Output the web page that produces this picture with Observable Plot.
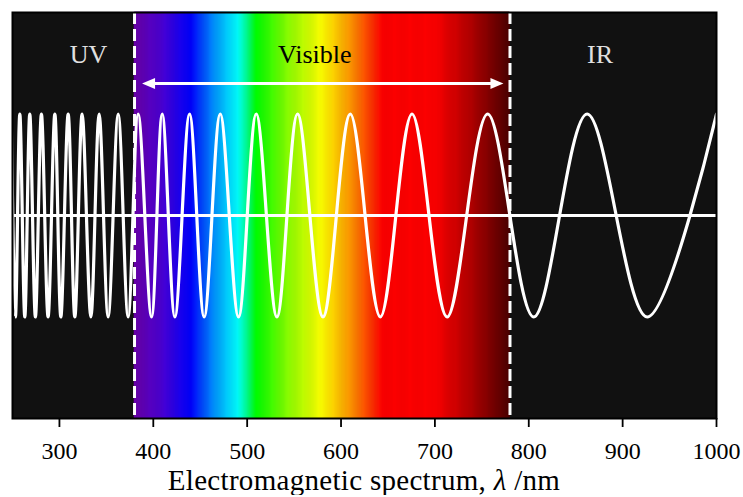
<!DOCTYPE html>
<html>
<head>
<meta charset="utf-8">
<script src="https://cdn.jsdelivr.net/npm/d3@7"></script>
<script src="https://cdn.jsdelivr.net/npm/@observablehq/plot@0.6"></script>
<style>
  body { margin: 0; background: #fff; }
  #chart { width: 743px; }
  #chart svg, #chart svg text { font-family: "Liberation Serif", "Times New Roman", serif !important; }
  .xlabel {
    font-family: "Liberation Serif", "Times New Roman", serif;
    font-size: 29px;
    line-height: 1;
    margin-top: -2px;
    padding-left: 12px;
    width: 704px;
    text-align: center;
    color: #000;
    white-space: nowrap;
    letter-spacing: 0.3px;
  }
</style>
</head>
<body>
<div id="chart"></div>
<script>
// Wavelengths (nm) of the wave's crests and troughs
const peakNm = [248.6, 257.8, 268.4, 280.8, 295.1, 309.3, 324.2, 342.3, 362.6, 383.9,
                409.5, 438.6, 471.3, 509.7, 553.7, 609.9, 675.6, 756.2, 862.2, 1000];
const troughNm = [253.1, 263.1, 274.4, 287.9, 301.5, 316.4, 333.5, 351.9, 373.2, 398.1,
                  423.0, 454.2, 490.8, 531.7, 580.8, 641.9, 713.0, 805.3, 926.2];

// Visible band limits (nm)
const boundaryNm = [380, 780];

// Colour stops of the visible spectrum
const spectrumStopNm = [380, 410, 440, 465, 490, 500, 510, 545, 580, 612, 645, 700, 740, 780];
const spectrumStopColor = ["#6a00a8", "#4a00d6", "#0000ff", "#0092ff", "#00ffff", "#00ff92",
                           "#00ff00", "#90ff00", "#ffff00", "#ff9000", "#ff0000", "#ff0000",
                           "#b00000", "#4c0000"];

// Axis
const xDomain = [250, 1000];
const xTicks = [300, 400, 500, 600, 700, 800, 900, 1000];
const yDomain = [-2, 2];

// Double arrow over the visible band
const arrowNm = [388, 773];
const arrowLevel = 1.3;

// Region labels
const lightLabels = ["UV", "IR"];
const lightLabelNm = [331, 876];
const darkLabels = ["Visible"];
const darkLabelNm = [572];
const labelLevel = 1.58;

const serifStack = "Liberation Serif, Times New Roman, serif";

// Build tables
const wave = [
  ...peakNm.map(x => ({x, y: 1})),
  ...troughNm.map(x => ({x, y: -1}))
].sort((a, b) => a.x - b.x);

const cells = d3.range(boundaryNm[0], boundaryNm[1], 1);

const arrowTips = [
  {x: arrowNm[0], y: arrowLevel, rot: 180},
  {x: arrowNm[1], y: arrowLevel, rot: 0}
];

const arrowHead = {
  draw(ctx) {
    ctx.moveTo(0, 0);
    ctx.lineTo(-13, -5.5);
    ctx.lineTo(-13, 5.5);
    ctx.closePath();
  }
};

const chart = Plot.plot({
  width: 743,
  height: 468,
  marginTop: 12,
  marginBottom: 50,
  marginLeft: 12,
  marginRight: 27,
  style: {fontFamily: serifStack, fontSize: "24px", color: "#000", background: "#fff"},
  x: {domain: xDomain},
  y: {domain: yDomain, axis: null},
  color: {type: "linear", domain: spectrumStopNm, range: spectrumStopColor, interpolate: "rgb"},
  marks: [
    Plot.frame({fill: "#111111"}),
    Plot.rect(cells, {x1: d => d, x2: d => d + 1, fill: d => d, stroke: d => d, strokeWidth: 0.6}),
    Plot.ruleY([0], {stroke: "white", strokeWidth: 3}),
    Plot.line(wave, {x: "x", y: "y", curve: "cardinal", stroke: "white", strokeWidth: 3.2, clip: true}),
    Plot.ruleX(boundaryNm, {stroke: "white", strokeWidth: 3, strokeDasharray: "12,5"}),
    Plot.arrow([{x1: arrowNm[0], x2: arrowNm[1], y: arrowLevel}], {
      x1: "x1", x2: "x2", y1: "y", y2: "y", bend: 0, headLength: 0,
      insetStart: 6, insetEnd: 6, stroke: "white", strokeWidth: 3
    }),
    Plot.dot(arrowTips, {x: "x", y: "y", rotate: "rot", symbol: arrowHead, fill: "white", stroke: "none", r: 6}),
    Plot.text(lightLabels, {x: (d, i) => lightLabelNm[i], y: labelLevel, text: d => d, fill: "#e0e0e0", fontSize: 26, letterSpacing: 1}),
    Plot.text(darkLabels, {x: (d, i) => darkLabelNm[i], y: labelLevel, text: d => d, fill: "#000", fontSize: 26, letterSpacing: 1}),
    Plot.frame({stroke: "#000", strokeWidth: 2}),
    Plot.axisX({ticks: xTicks, tickFormat: d => String(d), tickSize: 9, tickPadding: 14, strokeWidth: 1.8, fontSize: 24, label: null})
  ]
});

document.getElementById("chart").appendChild(chart);
const lab = document.createElement("div");
lab.className = "xlabel";
lab.innerHTML = "Electromagnetic spectrum, <i>λ</i> /nm";
document.getElementById("chart").appendChild(lab);
</script>
</body>
</html>
